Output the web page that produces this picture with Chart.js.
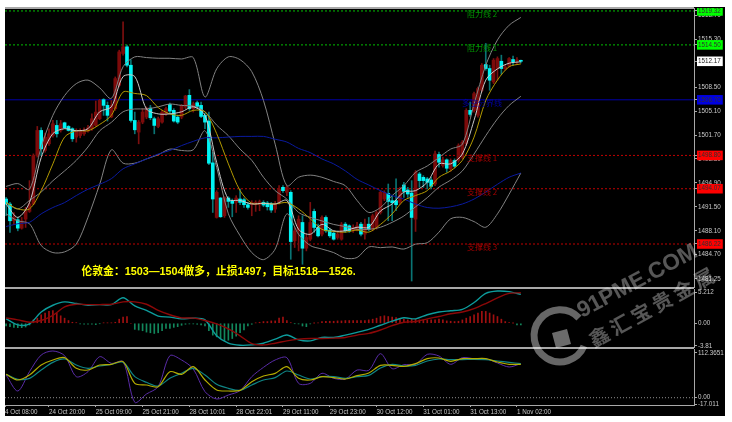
<!DOCTYPE html>
<html>
<head>
<meta charset="utf-8">
<script src="https://cdn.jsdelivr.net/npm/chart.js@4"></script>
<style>
  html, body { margin: 0; padding: 0; background: #fff; overflow: hidden; }
  #board { position: absolute; left: 5px; top: 7px; width: 720px; height: 409px; background: #000; }
  canvas { position: absolute; left: 5px; filter: blur(0.3px); }
  .rule { position: absolute; left: 5px; width: 689px; background: #a8a8a8; }
  #mark { position: absolute; left: 0; top: 0; pointer-events: none; }
</style>
</head>
<body>
<div id="board"></div>
<canvas id="mainChart" style="top:8px" width="720" height="280"></canvas>
<canvas id="macdChart" style="top:289px" width="720" height="59"></canvas>
<canvas id="oscChart" style="top:349px" width="720" height="67"></canvas>
<div class="rule" style="top:7px;height:2px"></div>
<div class="rule" style="top:287px;height:2px"></div>
<div class="rule" style="top:347px;height:2px"></div>
<svg id="mark" width="732" height="422">
  <path d="M 579 318 A 26 26 0 1 0 584 346" fill="none" stroke="#fff" stroke-opacity="0.4" stroke-width="7"/>
  <polygon points="552,333 567,329 571,344 556,348" fill="#fff" fill-opacity="0.42"/>
  <g fill="#fff" fill-opacity="0.34">
    <text transform="translate(582,318) rotate(-28)" font-family="Liberation Sans" font-weight="bold" font-size="22.5">91PME.COM</text>
    <text transform="translate(594,348) rotate(-29)" font-family="Noto Sans CJK SC" font-weight="bold" font-size="20" letter-spacing="4">鑫汇宝贵金属</text>
  </g>
</svg>
<script>
const opens = [1492.61,1491.89,1489.52,1489.66,1488.47,1489.75,1490.85,1491.89,1498.78,1502.35,
  1499.50,1500.45,1501.63,1503.06,1502.35,1503.44,1502.92,1502.59,1501.40,1501.63,
  1501.87,1502.25,1502.59,1503.06,1504.01,1506.72,1505.91,1504.25,1505.44,1508.76,
  1513.28,1514.23,1511.61,1503.77,1502.11,1503.53,1504.25,1505.53,1504.01,1502.92,
  1503.53,1504.72,1506.05,1505.20,1504.25,1504.25,1505.67,1507.34,1505.44,1506.29,
  1505.91,1504.49,1503.68,1497.74,1489.99,1492.75,1490.23,1492.75,1492.37,1492.13,
  1492.61,1492.51,1491.80,1491.80,1491.80,1491.80,1492.13,1492.04,1491.89,1491.18,
  1492.13,1494.27,1493.56,1493.56,1486.67,1488.09,1489.28,1485.62,1486.90,1490.85,
  1488.57,1487.62,1489.99,1488.19,1487.76,1487.14,1486.90,1489.04,1488.80,1488.09,
  1488.33,1489.04,1487.62,1489.04,1488.33,1488.57,1490.70,1492.61,1493.41,1492.37,
  1492.37,1492.13,1494.60,1493.89,1493.46,1489.75,1496.17,1495.69,1495.46,1495.31,
  1494.74,1498.93,1497.36,1498.17,1496.88,1498.07,1498.07,1498.55,1500.45,1505.20,
  1505.20,1504.49,1508.05,1511.71,1511.14,1509.24,1511.14,1512.18,1511.09,1511.47,
  1512.42,1512.23,1512.23];
const highs = [1492.84,1492.13,1490.70,1489.99,1489.99,1491.42,1495.22,1499.02,1502.92,1502.73,
  1501.97,1502.59,1503.77,1503.77,1503.77,1503.53,1503.06,1502.73,1502.59,1502.59,
  1502.73,1503.06,1504.72,1506.53,1506.77,1506.86,1506.39,1506.62,1509.95,1513.75,
  1517.79,1514.46,1512.42,1504.96,1503.77,1505.44,1505.67,1505.91,1504.25,1504.25,
  1505.20,1505.67,1506.24,1505.44,1504.49,1506.05,1507.34,1508.15,1506.39,1506.53,
  1506.39,1504.82,1504.96,1499.26,1493.79,1492.84,1492.94,1492.94,1492.61,1493.08,
  1494.03,1492.75,1492.13,1492.37,1492.37,1492.46,1492.37,1492.27,1492.13,1492.27,
  1494.51,1494.51,1494.51,1493.79,1488.57,1490.23,1490.23,1487.62,1492.13,1491.18,
  1489.04,1490.23,1490.23,1488.47,1488.09,1487.86,1489.28,1489.28,1488.95,1488.95,
  1489.28,1489.28,1489.75,1489.99,1490.47,1490.94,1493.79,1493.79,1494.74,1493.08,
  1495.46,1494.27,1494.98,1494.27,1495.22,1496.65,1496.41,1495.93,1495.69,1495.69,
  1499.40,1499.26,1498.55,1498.31,1498.31,1498.31,1500.45,1500.92,1505.44,1506.39,
  1507.81,1508.52,1511.85,1514.70,1511.61,1512.56,1512.80,1513.04,1511.61,1512.71,
  1512.90,1512.71,1512.33];
const lows = [1490.23,1487.86,1489.04,1488.09,1488.33,1488.57,1490.70,1491.80,1498.55,1498.78,
  1499.26,1500.21,1501.40,1501.40,1502.11,1502.63,1502.25,1500.78,1500.68,1501.30,
  1501.63,1502.11,1502.35,1502.92,1503.87,1504.49,1503.68,1504.15,1505.20,1508.52,
  1513.04,1511.38,1503.53,1501.87,1500.45,1503.30,1504.01,1503.87,1501.87,1502.73,
  1503.39,1504.49,1504.72,1503.53,1503.30,1504.01,1505.44,1505.20,1504.96,1505.44,
  1504.15,1502.59,1497.50,1490.70,1489.90,1489.99,1489.99,1491.42,1490.09,1490.70,
  1491.80,1491.42,1491.18,1490.23,1490.85,1490.94,1491.51,1491.04,1490.70,1490.70,
  1491.89,1493.56,1493.08,1484.05,1485.72,1485.24,1483.34,1485.24,1486.67,1487.86,
  1487.24,1487.38,1487.86,1487.14,1486.76,1486.90,1486.76,1487.86,1487.86,1487.86,
  1488.09,1487.38,1486.90,1488.09,1488.09,1488.33,1490.47,1492.37,1489.52,1489.52,
  1490.94,1491.89,1492.84,1492.84,1480.96,1488.00,1494.27,1494.27,1494.03,1494.03,
  1494.51,1497.12,1497.12,1496.41,1496.55,1497.03,1497.83,1498.31,1500.21,1504.34,
  1504.96,1504.25,1507.81,1510.90,1508.05,1509.00,1509.48,1510.33,1510.90,1511.38,
  1511.61,1511.85,1511.95];
const closes = [1491.89,1489.52,1489.99,1488.47,1489.52,1490.85,1491.89,1498.78,1502.35,1499.73,
  1501.40,1501.87,1503.30,1501.87,1503.30,1502.73,1502.35,1501.16,1502.35,1502.25,
  1502.44,1502.73,1504.01,1504.96,1506.62,1505.91,1504.49,1505.91,1509.71,1513.51,
  1514.23,1511.61,1503.77,1502.44,1503.53,1504.96,1505.44,1504.15,1503.06,1504.01,
  1504.96,1505.44,1505.10,1503.68,1503.53,1505.91,1507.24,1505.44,1506.15,1505.77,
  1504.34,1503.53,1497.69,1492.61,1493.56,1490.09,1492.84,1492.27,1491.99,1492.75,
  1492.13,1491.80,1491.42,1492.13,1492.13,1492.23,1491.75,1491.51,1491.04,1491.89,
  1494.03,1493.79,1494.27,1486.57,1488.09,1489.75,1485.62,1487.14,1489.28,1488.57,
  1487.38,1489.99,1488.09,1487.38,1486.90,1487.62,1489.04,1488.09,1488.09,1488.57,
  1488.80,1487.62,1489.04,1488.33,1490.23,1490.70,1493.56,1493.56,1492.27,1492.08,
  1491.80,1493.79,1493.70,1493.32,1489.99,1496.41,1495.22,1495.22,1494.98,1494.41,
  1499.02,1497.83,1498.17,1496.98,1498.07,1497.26,1500.21,1500.68,1505.20,1504.63,
  1507.57,1508.29,1511.61,1511.14,1509.48,1512.33,1512.56,1511.14,1511.38,1512.56,
  1512.09,1512.33,1512.17];

// the slow lines were read every third bar
const lineBars = [1,4,7,10,13,16,19,22,25,28,31,34,37,40,43,46,49,52,55,58,61,64,67,70,73,76,79,82,85,88,
  91,94,97,100,103,106,109,112,115,118,121,124,127,130,133];
const bandUpper = [1494.4,1494.8,1494.0,1500.0,1504.5,1507.3,1509.0,1509.5,1508.4,1506.9,1511.4,1512.8,1512.7,1512.6,1512.6,
  1512.5,1512.7,1507.1,1511.1,1512.8,1512.4,1510.7,1506.6,1500.4,1494.5,1495.7,1496.0,1495.7,1495.1,1494.5,
  1492.4,1490.7,1491.4,1493.1,1494.5,1496.4,1497.3,1498.5,1499.7,1500.4,1506.1,1511.6,1515.2,1517.3,1518.4];
const bandMiddle = [1492.1,1491.2,1492.4,1493.6,1495.2,1496.6,1498.1,1500.0,1502.3,1503.5,1505.0,1505.4,1505.4,1505.7,1506.1,
  1505.9,1505.8,1505.0,1503.1,1501.6,1499.7,1498.1,1495.7,1493.8,1492.6,1490.7,1490.0,1489.5,1489.0,1488.7,
  1488.3,1488.3,1488.6,1489.3,1490.2,1491.5,1492.8,1494.3,1495.3,1496.6,1499.0,1501.6,1504.0,1505.9,1507.2];
const bandLower = [1490.5,1489.5,1489.1,1486.0,1485.0,1485.1,1486.2,1490.0,1494.7,1499.6,1497.7,1497.7,1498.3,1498.9,1499.7,
  1499.5,1499.6,1502.3,1497.1,1490.5,1487.4,1485.0,1484.0,1485.5,1490.5,1487.6,1486.0,1485.5,1485.0,1484.2,
  1484.3,1485.8,1485.7,1485.8,1485.5,1486.2,1486.4,1487.9,1489.8,1490.0,1489.4,1488.6,1490.5,1493.3,1496.3];
const maBlue = [1488.7,1489.1,1489.3,1490.5,1491.4,1492.1,1493.1,1494.0,1494.7,1495.5,1496.9,1497.6,1498.3,1499.0,1499.5,
  1500.2,1500.8,1501.3,1501.3,1501.4,1501.5,1501.5,1501.5,1501.1,1500.7,1499.8,1499.2,1498.3,1497.6,1496.6,
  1495.4,1494.6,1493.8,1493.1,1492.6,1491.9,1491.4,1491.3,1491.5,1491.9,1492.6,1493.6,1494.7,1495.7,1496.3];
const maYellow = [1492.1,1491.2,1491.2,1493.8,1497.6,1501.4,1502.3,1502.3,1503.2,1504.5,1507.8,1507.6,1507.3,1505.6,1504.7,
  1504.5,1505.2,1505.0,1501.9,1497.6,1493.8,1492.0,1492.0,1491.9,1492.1,1491.2,1489.8,1488.3,1488.0,1487.9,
  1488.2,1487.9,1489.0,1490.5,1492.4,1493.1,1493.8,1495.7,1496.6,1498.1,1501.4,1506.6,1509.5,1511.4,1511.8];
const maWhite = [1491.9,1490.0,1492.1,1498.5,1501.9,1502.6,1502.3,1502.6,1505.0,1505.7,1510.0,1510.0,1505.4,1504.7,1504.7,
  1505.0,1505.7,1504.5,1497.8,1492.6,1492.4,1491.9,1492.0,1491.9,1492.4,1488.3,1487.6,1489.0,1488.1,1488.1,
  1488.6,1488.6,1490.9,1491.9,1493.6,1493.8,1495.0,1497.6,1497.6,1499.0,1503.8,1509.5,1511.1,1511.9,1512.1];

const macdLine = [.75,-.28,-.11,1.90,3.04,3.61,3.33,3.04,3.15,3.15,4.30,2.93,2.18,1.21,1.04,
  .75,.87,.58,-2.11,-3.36,-3.71,-3.65,-3.36,-2.68,-1.99,-2.79,-2.96,-2.39,-2.39,-1.99,
  -1.53,-1.02,-.33,.35,.92,.75,1.44,1.90,2.12,2.35,3.50,5.04,5.44,5.33,4.87];
const macdSignal = [.92,.58,.18,.47,1.32,2.75,3.21,3.15,3.15,3.21,3.61,3.61,3.21,2.18,1.44,
  .92,.87,.47,-.11,-.96,-2.11,-3.42,-3.65,-3.36,-2.96,-2.68,-2.56,-2.56,-2.51,-2.39,
  -1.99,-1.71,-1.13,-.39,.18,.29,.75,1.15,1.61,1.90,2.47,3.33,4.30,5.04,5.15];
const macdHist = [-.46,-.57,-.69,-.74,-.74,-.63,-.29,.57,.86,1.43,1.72,2.0,2.12,1.72,1.26,.86,.46,.17,.11,-.11,
  -.17,-.17,-.17,-.23,-.06,.06,.06,.06,.17,.69,1.03,1.14,0,-1.03,-1.14,-1.26,-1.49,-1.60,-1.72,-1.60,
  -1.26,-.86,-.86,-.69,-.57,-.34,-.17,-.11,-.11,-.17,-.29,-.46,-1.26,-2.0,-2.29,-2.57,-2.97,-2.86,-2.57,-2.17,
  -1.60,-1.14,-.46,-.17,.06,.17,.29,.29,.40,.40,.86,1.03,.46,.11,-.06,-.11,-.46,-.57,-.11,.03,
  .06,.29,.34,.34,.34,.40,.40,.46,.46,.46,.46,.46,.46,.57,.69,.86,1.14,1.26,1.14,1.03,
  .97,.80,.69,.57,.69,.69,.57,.57,.57,.57,.57,.69,.57,.40,.34,.29,.34,.57,.86,1.14,
  1.43,1.72,2.0,2.0,1.72,1.43,1.14,.69,.29,.11,.03,-.29,-.29];

const oscFast = [57,16.9,65.4,107.3,117.4,105.6,52.9,65.4,103.1,86.4,90.6,-11.6,9.3,27.8,105.6,
  94.8,72.2,15.2,-3.2,6.8,17.7,52.9,76.3,94.8,100.6,36.1,36.1,61.3,48.7,47,
  69.6,68.8,110.7,73,83,83.9,109,104.8,83.9,100.6,98.1,98.1,87.2,77.2,85.6];
const oscMid = [58.8,44.5,57,82.2,94.8,100.6,73.8,69.6,82.2,83.9,90.6,36.1,31.9,27.8,65.4,
  58.8,78,44.5,19.4,16.9,18.5,40.3,54.6,61.3,78,48.7,44.5,52.9,50.4,47,
  55.4,62.1,81.4,81.4,78.8,85.6,98.1,99.8,91.4,98.1,98.1,98.1,89.7,83.9,83.9];
const oscSlow = [58.8,46.2,48.7,69.6,88.9,97.3,82.2,73.8,79.7,83.9,88.9,52.9,38.7,29.4,48.7,
  61.3,73.8,57,33.6,23.6,18.5,31.9,44.5,50.4,67.1,57,47,52.9,52.9,48.7,
  52.9,56.2,74.7,83.9,79.7,81.4,92.2,97.3,95.6,95.6,96.4,95.6,92.2,88.9,85.6];

const priceTicks = [1518.70,1515.30,1508.50,1505.10,1501.70,1498.30,1494.90,1491.50,1488.10,1484.70,1481.25];
const levelPrices = [1519.32,1514.50,1506.70,1498.80,1494.07,1486.22];
const levelNames = ['阻力线 2','阻力线 1','多空分界线','支撑线 1','支撑线 2','支撑线 3'];
const levelColors = ['#00ff00','#00ff00','#0000e0','#ff0000','#ff0000','#ff0000'];
const levelLineColors = ['#00c000','#00c000','#0000a8','#c00000','#c00000','#c00000'];
const levelTextColors = ['#009000','#009000','#0000a0','#a00000','#a00000','#a00000'];
const lastPrice = 1512.17;
const macdTicks = [5.212,0,-3.81];
const oscTicks = [112.3651,0,-17.011];
const timeBars = [0.72,12,24,36,48,60,72,84,96,108,120,132];
const timeLabels = ['4 Oct 08:00','24 Oct 20:00','25 Oct 09:00','25 Oct 21:00','28 Oct 10:01','28 Oct 22:01',
  '29 Oct 11:00','29 Oct 23:00','30 Oct 12:00','31 Oct 01:00','31 Oct 13:00','1 Nov 02:00'];
const note = '伦敦金：1503—1504做多，止损1497，目标1518—1526.';

const xMin = 0.72, xMax = 177.4;
const tickFont = { family: 'Liberation Sans', size: 6.3 };
const bars = closes.map((c, k) => k + 1);

function fitAxis(width) {
  return scale => {
    scale.width = width;
    scale.paddingTop = 0;
    scale.paddingBottom = 0;
    scale.paddingLeft = 0;
    scale.paddingRight = 0;
  };
}

function lineSet(values, color, width, order) {
  return {
    type: 'line',
    data: lineBars.map((b, k) => ({ x: b, y: values[k] })),
    borderColor: color,
    borderWidth: width,
    pointRadius: 0,
    tension: 0.3,
    order: order
  };
}

function levelSet(y, color, dash, order) {
  return {
    type: 'line',
    data: [{ x: xMin, y: y }, { x: xMax, y: y }],
    borderColor: color,
    borderWidth: 1,
    borderDash: dash,
    pointRadius: 0,
    tension: 0,
    order: order
  };
}

function baseOptions(yMin, yMax, tickValues, tickLabel, yExtra) {
  return {
    responsive: false,
    animation: false,
    devicePixelRatio: 1,
    layout: { padding: 0, autoPadding: false },
    events: [],
    plugins: { legend: { display: false }, tooltip: { enabled: false } },
    scales: {
      x: { type: 'linear', min: xMin, max: xMax, offset: false, display: false },
      y: Object.assign({
        position: 'right',
        min: yMin,
        max: yMax,
        afterFit: fitAxis(31),
        afterBuildTicks: scale => { scale.ticks = tickValues.map(v => ({ value: v })); },
        border: { color: '#a8a8a8', width: 1 },
        grid: { drawOnChartArea: false, color: '#a8a8a8', tickLength: 3 },
        ticks: Object.assign({
          autoSkip: false,
          padding: 1,
          font: tickFont,
          color: '#c8c8c8',
          callback: tickLabel
        }, yExtra || {})
      })
    }
  };
}

const levelAt = v => levelPrices.indexOf(v);

const mainTextPlugin = {
  id: 'mainText',
  afterDatasetsDraw(chart) {
    const ctx = chart.ctx;
    const yScale = chart.scales.y;
    ctx.save();
    ctx.textAlign = 'center';
    ctx.textBaseline = 'middle';
    ctx.font = '8px "Noto Sans CJK SC"';
    levelNames.forEach((name, k) => {
      ctx.fillStyle = levelTextColors[k];
      ctx.fillText(name, 477, yScale.getPixelForValue(levelPrices[k]) + 3);
    });
    ctx.textAlign = 'left';
    ctx.fillStyle = '#ffff00';
    ctx.font = 'bold 10.8px "Liberation Sans", "Noto Sans CJK SC"';
    ctx.fillText(note, 76.5, 264);
    ctx.restore();
  }
};

new Chart(document.getElementById('mainChart'), {
  type: 'bar',
  data: {
    datasets: [
      ...levelPrices.map((p, k) => levelSet(p, levelLineColors[k], k === 2 ? [] : [2, 2], 20)),
      lineSet(bandUpper, '#828282', 1, 3),
      lineSet(bandMiddle, '#828282', 1, 3),
      lineSet(bandLower, '#828282', 1, 3),
      lineSet(maBlue, '#0a1aa0', 1, 2),
      lineSet(maYellow, '#b39a00', 1, 1),
      lineSet(maWhite, '#c8c8c8', 1, 0),
      {
        // bodies
        data: bars.map((b, k) => ({ x: b, y: [opens[k], closes[k]] })),
        backgroundColor: ctx => closes[ctx.dataIndex] >= opens[ctx.dataIndex] ? '#7c0a0a' : '#00f4f4',
        borderWidth: 0,
        barThickness: 3,
        grouped: false,
        minBarLength: 1,
        order: 10
      },
      {
        // wicks
        data: bars.map((b, k) => ({ x: b, y: [lows[k], highs[k]] })),
        backgroundColor: ctx => closes[ctx.dataIndex] >= opens[ctx.dataIndex] ? '#7c0f0f' : '#0a7474',
        barThickness: 1,
        grouped: false,
        order: 11
      }
    ]
  },
  options: baseOptions(1479.97, 1519.74,
    [...priceTicks, ...levelPrices, lastPrice],
    v => v.toFixed(2),
    {
      showLabelBackdrop: ctx => levelAt(ctx.tick.value) >= 0 || ctx.tick.value === lastPrice,
      backdropColor: ctx => ctx.tick.value === lastPrice ? '#ffffff' : (levelColors[levelAt(ctx.tick.value)] || 'transparent'),
      backdropPadding: { left: 1, right: 2, top: 1, bottom: 1 },
      color: ctx => ctx.tick.value === lastPrice ? '#202020'
        : levelAt(ctx.tick.value) >= 0 ? '#303030' : '#c8c8c8'
    }),
  plugins: [mainTextPlugin]
});

new Chart(document.getElementById('macdChart'), {
  type: 'bar',
  data: {
    datasets: [
      lineSet(macdLine, '#0d9c9c', 1.4, 1),
      lineSet(macdSignal, '#8c0808', 1.4, 0),
      {
        data: bars.map((b, k) => ({ x: b, y: macdHist[k] })),
        backgroundColor: ctx => macdHist[ctx.dataIndex] >= 0 ? '#a01010' : '#12875c',
        barThickness: 1,
        grouped: false,
        order: 5
      }
    ]
  },
  options: baseOptions(-4.17, 5.78, macdTicks, v => v === 0 ? '0.00' : String(v))
});

const oscOptions = baseOptions(-18.3, 122.4, oscTicks, v => v === 0 ? '0.00' : String(v));
oscOptions.scales.x = {
  type: 'linear',
  min: xMin,
  max: xMax,
  position: 'bottom',
  afterFit(scale) {
    scale.height = 11;
    scale.paddingLeft = 0;
    scale.paddingRight = 0;
  },
  afterBuildTicks: scale => { scale.ticks = timeBars.map(v => ({ value: v })); },
  border: { color: '#a8a8a8', width: 1 },
  grid: { drawOnChartArea: false, color: '#a8a8a8', tickLength: 2 },
  ticks: {
    autoSkip: false,
    maxRotation: 0,
    align: 'start',
    padding: 1,
    font: tickFont,
    color: '#c8c8c8',
    callback: (v, i) => timeLabels[i]
  }
};

new Chart(document.getElementById('oscChart'), {
  type: 'line',
  data: {
    datasets: [
      levelSet(0, '#909090', [1, 2], 9),
      lineSet(oscFast, '#5a2ca8', 1, 2),
      lineSet(oscSlow, '#0f8585', 1.2, 1),
      lineSet(oscMid, '#b4ac00', 1.2, 0)
    ]
  },
  options: oscOptions
});
</script>
</body>
</html>
